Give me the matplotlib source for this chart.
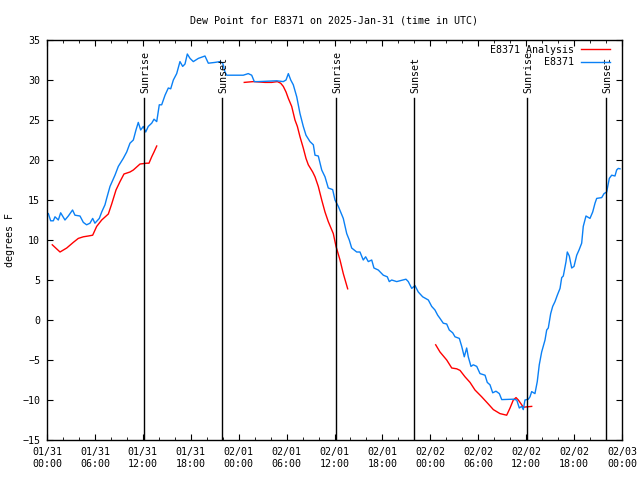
# Dew point chart for E8371, 2025-Jan-31 .. 2025-Feb-03 (time in UTC)
import matplotlib
matplotlib.use("Agg")
import matplotlib.pyplot as plt

# hours since 01/31 00:00 UTC, dew point in degrees F
obs_hours = [0.17, 0.46, 0.79, 1.0, 1.42, 1.71, 2.25, 2.67, 3.2, 3.5, 4.13, 4.55, 4.96, 5.38,
             5.72, 6.0, 6.55, 6.85, 7.26, 7.47, 7.89, 8.51, 8.93, 9.55, 9.98, 10.39, 10.81,
             11.14, 11.43, 11.73, 12.06, 12.36, 12.68, 13.11, 13.4, 13.74, 14.06, 14.36,
             14.78, 15.19, 15.49, 15.82, 16.24, 16.65, 16.99, 17.28, 17.57, 17.91, 18.32,
             18.95, 19.78, 20.2, 21.04, 21.66, 22.0, 22.29, 22.5, 24.58, 25.2, 25.63, 25.96,
             26.46, 28.76, 29.59, 29.93, 30.22, 30.52, 30.84, 31.27, 31.68, 32.09, 32.43,
             32.93, 33.35, 33.56, 33.97, 34.4, 34.81, 35.22, 35.77, 36.06, 36.48, 37.1,
             37.53, 37.85, 38.15, 38.78, 39.19, 39.6, 39.9, 40.23, 40.66, 40.94, 41.48,
             42.11, 42.61, 42.86, 43.16, 43.79, 44.95, 45.24, 45.67, 46.08, 46.49, 47.04,
             47.75, 48.17, 48.58, 48.92, 49.21, 49.62, 50.05, 50.37, 50.8, 51.09, 51.63,
             51.93, 52.25, 52.55, 52.75, 53.09, 53.38, 53.81, 54.22, 54.85, 55.13, 55.47,
             55.81, 56.22, 56.64, 56.94, 58.39, 58.82, 59.14, 59.44, 59.64, 59.85, 60.27,
             60.48, 60.69, 61.1, 61.39, 61.64, 61.94, 62.36, 62.57, 62.77, 63.07, 63.32,
             63.61, 63.9, 64.24, 64.45, 64.65, 64.99, 65.15, 65.4, 65.7, 65.99, 66.33,
             66.62, 66.95, 67.15, 67.49, 67.99, 68.33, 68.62, 68.83, 69.46, 69.75, 70.08,
             70.41, 70.71, 71.12, 71.33, 71.53, 71.75]
obs_dewpt = [13.3, 12.4, 12.4, 12.9, 12.5, 13.4, 12.5, 13.0, 13.75, 13.1, 13.0, 12.2, 11.9, 12.1,
             12.7, 12.1, 12.7, 13.5, 14.4, 15.2, 16.7, 18.1, 19.2, 20.2, 21.0, 22.1, 22.5,
             23.75, 24.7, 23.75, 24.2, 23.5, 24.2, 24.6, 25.1, 24.8, 26.9, 26.9,
             28.1, 29.0, 28.9, 30.0, 30.8, 32.3, 31.7, 32.0, 33.25, 32.7, 32.3,
             32.7, 33.0, 32.1, 32.2, 32.3, 32.1, 31.0, 30.6, 30.6, 30.8, 30.6, 29.8,
             29.8, 29.9, 29.8, 30.0, 30.8, 30.0, 29.4, 27.9, 25.8, 24.2, 23.1,
             22.3, 21.9, 20.6, 20.5, 18.75, 17.9, 16.5, 16.3, 15.0, 14.2, 12.7,
             10.8, 10.0, 9.0, 8.5, 8.5, 7.5, 7.9, 7.3, 7.5, 6.5, 6.25,
             5.6, 5.4, 4.8, 5.0, 4.8, 5.1, 4.8, 3.95, 4.3, 3.5, 2.9,
             2.5, 1.7, 1.25, 0.6, 0.2, -0.4, -0.5, -1.25, -1.6, -2.1, -2.3,
             -3.3, -4.6, -3.5, -4.6, -5.8, -5.6, -5.8, -6.7, -6.9, -7.8, -8.1,
             -9.1, -8.9, -9.2, -9.95, -9.9, -10.0, -11.0, -10.8, -11.2, -10.0, -9.9,
             -9.6, -8.95, -9.2, -7.7, -5.6, -4.0, -2.5, -1.25, -1.0, 0.8, 1.7,
             2.3, 3.1, 3.95, 5.3, 5.5, 7.3, 8.5, 8.0, 6.5, 6.7, 8.1,
             8.75, 9.6, 11.7, 13.0, 12.7, 13.5, 14.6, 15.2, 15.3, 15.8, 16.0,
             17.7, 18.1, 18.0, 18.75, 18.95, 18.9]

# analysis runs (three separate pieces)
ana1_hours = [0.66, 1.63, 2.47, 3.29, 3.92, 4.55, 5.17, 5.72, 6.22, 6.85, 7.68, 8.1, 8.64,
              9.14, 9.64, 10.39, 10.81, 11.65, 12.48, 12.77, 13.11, 13.4, 13.74]
ana1_dewpt = [9.4, 8.5, 9.0, 9.7, 10.2, 10.4, 10.5, 10.6, 11.7, 12.5, 13.25, 14.5, 16.25,
              17.3, 18.25, 18.5, 18.75, 19.5, 19.6, 19.6, 20.4, 21.0, 21.75]
ana2_hours = [24.7, 25.83, 27.3, 28.14, 28.84, 29.26, 29.59, 29.93, 30.22, 30.64, 31.05,
              31.35, 31.68, 32.09, 32.43, 32.72, 33.27, 33.56, 33.97, 34.4, 34.81, 35.22,
              35.85, 36.19, 36.69, 37.1, 37.65]
ana2_dewpt = [29.7, 29.8, 29.7, 29.7, 29.8, 29.6, 29.2, 28.5, 27.7, 26.7, 25.0,
              24.2, 22.9, 21.5, 20.2, 19.4, 18.5, 17.9, 16.7, 15.0, 13.5, 12.3,
              10.8, 9.2, 7.5, 5.8, 3.9]
ana3_hours = [48.67, 49.21, 50.05, 50.68, 51.3, 51.72, 52.34, 52.97, 53.59, 54.43, 55.26,
              55.89, 56.72, 57.56, 57.98, 58.39, 58.73, 59.02, 59.44, 59.64, 60.69]
ana3_dewpt = [-3.1, -4.0, -5.0, -6.0, -6.1, -6.3, -7.1, -7.8, -8.75, -9.6, -10.5,
              -11.2, -11.7, -11.9, -11.0, -10.0, -9.7, -10.0, -10.6, -10.9, -10.8]

sun_hours = [12.18, 21.95, 36.19, 46.0, 60.15, 70.0]
sun_labels = ["Sunrise", "Sunset", "Sunrise", "Sunset", "Sunrise", "Sunset"]

xtick_hours = list(range(0, 73, 6))
xtick_labels = ["01/31\n00:00", "01/31\n06:00", "01/31\n12:00", "01/31\n18:00",
                "02/01\n00:00", "02/01\n06:00", "02/01\n12:00", "02/01\n18:00",
                "02/02\n00:00", "02/02\n06:00", "02/02\n12:00", "02/02\n18:00",
                "02/03\n00:00"]

plt.rcParams['font.family'] = ['DejaVu Sans Mono']
plt.rcParams['font.size'] = 7.2

fig = plt.figure(figsize=(6.4, 4.8), dpi=100)
ax = fig.add_axes([47 / 640, 40 / 480, 575 / 640, 400 / 480])

red = "#ff0000"
blue = "#0a80f5"
ax.plot(ana1_hours, ana1_dewpt, color=red, lw=1, label="E8371 Analysis")
ax.plot(ana2_hours, ana2_dewpt, color=red, lw=1)
ax.plot(ana3_hours, ana3_dewpt, color=red, lw=1)
ax.plot(obs_hours, obs_dewpt, color=blue, lw=1, label="E8371")

for h, lab in zip(sun_hours, sun_labels):
    ax.plot([h, h], [-15, 27.75], color="black", lw=1)
    ax.text(h + 0.15, 28.4, lab, rotation=90, ha="center", va="bottom", fontsize=7.2)

ax.set_xlim(0, 72)
ax.set_ylim(-15, 35)
ax.set_xticks(xtick_hours)
ax.set_xticklabels(xtick_labels)
ax.set_xticks(range(0, 73, 2), minor=True)
ax.set_yticks(range(-15, 36, 5))
ax.tick_params(which="major", direction="in", length=4, top=True, right=True, pad=5)
ax.tick_params(which="minor", direction="in", length=2.5, top=True, bottom=True)
ax.tick_params(axis="y", which="minor", left=False, right=False)
for s in ax.spines.values():
    s.set_linewidth(1)

ax.set_ylabel("degrees F", labelpad=5)
ax.set_title("Dew Point for E8371 on 2025-Jan-31 (time in UTC)", fontsize=7.2, pad=12)

ax.legend(loc="upper right", frameon=False, markerfirst=False, handlelength=2.9,
          handletextpad=0.7, borderaxespad=0.1, labelspacing=0.25, fontsize=7.2,
          bbox_to_anchor=(0.988, 1.0))

fig.savefig("out.png", dpi=100)
